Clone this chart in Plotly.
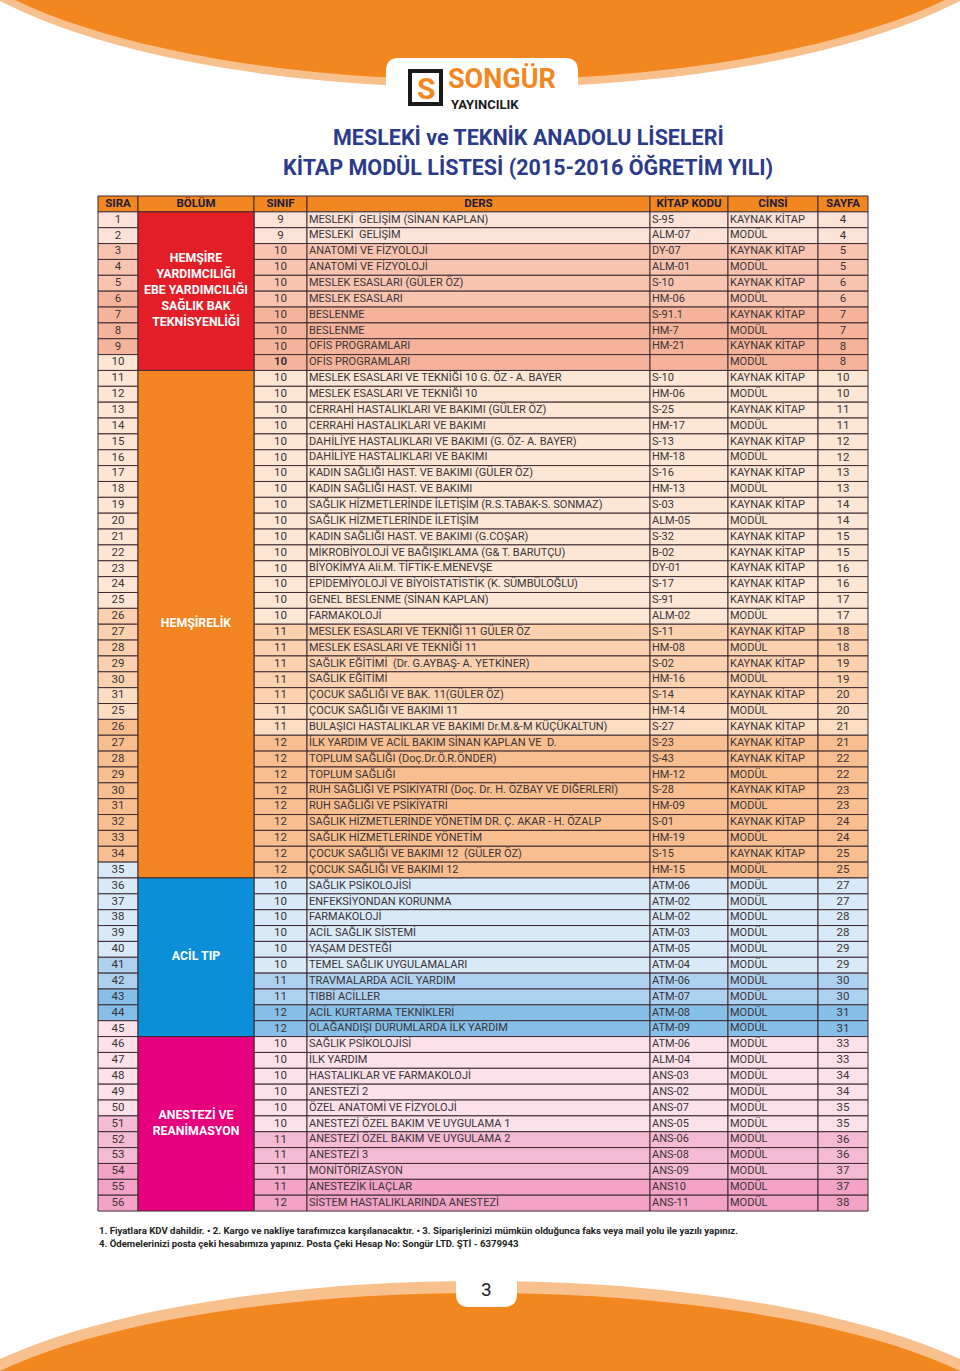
import plotly.graph_objects as go

W, H = 960, 1371

# ---- table data ----
columns = ["SIRA", "BÖLÜM", "SINIF", "DERS", "KİTAP KODU", "CİNSİ", "SAYFA"]

sira = ["1", "2", "3", "4", "5", "6", "7", "8", "9", "10",
        "11", "12", "13", "14", "15", "16", "17", "18", "19", "20",
        "21", "22", "23", "24", "25", "26", "27", "28", "29", "30", "31",
        "25", "26", "27", "28", "29", "30", "31", "32", "33", "34", "35",
        "36", "37", "38", "39", "40", "41", "42", "43", "44", "45",
        "46", "47", "48", "49", "50", "51", "52", "53", "54", "55", "56"]

bolum = ["HEMŞİRE<br>YARDIMCILIĞI<br>EBE YARDIMCILIĞI<br>SAĞLIK BAK<br>TEKNİSYENLİĞİ",
         "HEMŞİRELİK", "ACİL TIP", "ANESTEZİ VE<br>REANİMASYON"]
bolum_rows = [10, 32, 10, 11]

sinif = ["9", "9", "10", "10", "10", "10", "10", "10", "10", "<b>10</b>",
         "10", "10", "10", "10", "10", "10", "10", "10", "10", "10",
         "10", "10", "10", "10", "10", "10", "11", "11", "11", "11", "11",
         "11", "11", "12", "12", "12", "12", "12", "12", "12", "12", "12",
         "10", "10", "10", "10", "10", "10", "11", "11", "12", "12",
         "10", "10", "10", "10", "10", "10", "11", "11", "11", "11", "12"]

ders = [
    "MESLEKİ  GELİŞİM (SİNAN KAPLAN)",
    "MESLEKİ  GELİŞİM",
    "ANATOMİ VE FİZYOLOJİ",
    "ANATOMİ VE FİZYOLOJİ",
    "MESLEK ESASLARI (GÜLER ÖZ)",
    "MESLEK ESASLARI",
    "BESLENME",
    "BESLENME",
    "OFİS PROGRAMLARI",
    "OFİS PROGRAMLARI",
    "MESLEK ESASLARI VE TEKNİĞİ 10 G. ÖZ - A. BAYER",
    "MESLEK ESASLARI VE TEKNİĞİ 10",
    "CERRAHİ HASTALIKLARI VE BAKIMI (GÜLER ÖZ)",
    "CERRAHİ HASTALIKLARI VE BAKIMI",
    "DAHİLİYE HASTALIKLARI VE BAKIMI (G. ÖZ- A. BAYER)",
    "DAHİLİYE HASTALIKLARI VE BAKIMI",
    "KADIN SAĞLIĞI HAST. VE BAKIMI (GÜLER ÖZ)",
    "KADIN SAĞLIĞI HAST. VE BAKIMI",
    "SAĞLIK HİZMETLERİNDE İLETİŞİM (R.S.TABAK-S. SONMAZ)",
    "SAĞLIK HİZMETLERİNDE İLETİŞİM",
    "KADIN SAĞLIĞI HAST. VE BAKIMI (G.COŞAR)",
    "MİKROBİYOLOJİ VE BAĞIŞIKLAMA (G& T. BARUTÇU)",
    "BİYOKİMYA Ali.M. TİFTİK-E.MENEVŞE",
    "EPİDEMİYOLOJİ VE BİYOİSTATİSTİK (K. SÜMBÜLOĞLU)",
    "GENEL BESLENME (SİNAN KAPLAN)",
    "FARMAKOLOJİ",
    "MESLEK ESASLARI VE TEKNİĞİ 11 GÜLER ÖZ",
    "MESLEK ESASLARI VE TEKNİĞİ 11",
    "SAĞLIK EĞİTİMİ  (Dr. G.AYBAŞ- A. YETKİNER)",
    "SAĞLIK EĞİTİMİ",
    "ÇOCUK SAĞLIĞI VE BAK. 11(GÜLER ÖZ)",
    "ÇOCUK SAĞLIĞI VE BAKIMI 11",
    "BULAŞICI HASTALIKLAR VE BAKIMI Dr.M.&-M KÜÇÜKALTUN)",
    "İLK YARDIM VE ACİL BAKIM SİNAN KAPLAN VE  D.",
    "TOPLUM SAĞLIĞI (Doç.Dr.Ö.R.ÖNDER)",
    "TOPLUM SAĞLIĞI",
    "RUH SAĞLIĞI VE PSİKİYATRİ (Doç. Dr. H. ÖZBAY VE DİĞERLERİ)",
    "RUH SAĞLIĞI VE PSİKİYATRİ",
    "SAĞLIK HİZMETLERİNDE YÖNETİM DR. Ç. AKAR - H. ÖZALP",
    "SAĞLIK HİZMETLERİNDE YÖNETİM",
    "ÇOCUK SAĞLIĞI VE BAKIMI 12  (GÜLER ÖZ)",
    "ÇOCUK SAĞLIĞI VE BAKIMI 12",
    "SAĞLIK PSİKOLOJİSİ",
    "ENFEKSİYONDAN KORUNMA",
    "FARMAKOLOJİ",
    "ACİL SAĞLIK SİSTEMİ",
    "YAŞAM DESTEĞİ",
    "TEMEL SAĞLIK UYGULAMALARI",
    "TRAVMALARDA ACİL YARDIM",
    "TIBBİ ACİLLER",
    "ACİL KURTARMA TEKNİKLERİ",
    "OLAĞANDIŞI DURUMLARDA İLK YARDIM",
    "SAĞLIK PSİKOLOJİSİ",
    "İLK YARDIM",
    "HASTALIKLAR VE FARMAKOLOJİ",
    "ANESTEZİ 2",
    "ÖZEL ANATOMİ VE FİZYOLOJİ",
    "ANESTEZİ ÖZEL BAKIM VE UYGULAMA 1",
    "ANESTEZİ ÖZEL BAKIM VE UYGULAMA 2",
    "ANESTEZİ 3",
    "MONİTÖRİZASYON",
    "ANESTEZİK İLAÇLAR",
    "SİSTEM HASTALIKLARINDA ANESTEZİ",
]

kod = ["S-95", "ALM-07", "DY-07", "ALM-01", "S-10", "HM-06", "S-91.1", "HM-7", "HM-21", "",
       "S-10", "HM-06", "S-25", "HM-17", "S-13", "HM-18", "S-16", "HM-13", "S-03", "ALM-05",
       "S-32", "B-02", "DY-01", "S-17", "S-91", "ALM-02", "S-11", "HM-08", "S-02", "HM-16", "S-14",
       "HM-14", "S-27", "S-23", "S-43", "HM-12", "S-28", "HM-09", "S-01", "HM-19", "S-15", "HM-15",
       "ATM-06", "ATM-02", "ALM-02", "ATM-03", "ATM-05", "ATM-04", "ATM-06", "ATM-07", "ATM-08", "ATM-09",
       "ATM-06", "ALM-04", "ANS-03", "ANS-02", "ANS-07", "ANS-05", "ANS-06", "ANS-08", "ANS-09", "ANS10", "ANS-11"]

K, M = "KAYNAK KİTAP", "MODÜL"
cinsi = [K, M, K, M, K, M, K, M, K, M,
         K, M, K, M, K, M, K, M, K, M,
         K, K, K, K, K, M, K, M, K, M, K,
         M, K, K, K, M, K, M, K, M, K, M,
         M, M, M, M, M, M, M, M, M, M,
         M, M, M, M, M, M, M, M, M, M, M]

sayfa = ["4", "4", "5", "5", "6", "6", "7", "7", "8", "8",
         "10", "10", "11", "11", "12", "12", "13", "13", "14", "14",
         "15", "15", "16", "16", "17", "17", "18", "18", "19", "19", "20",
         "20", "21", "21", "22", "22", "23", "23", "24", "24", "25", "25",
         "27", "27", "28", "28", "29", "29", "30", "30", "31", "31",
         "33", "33", "34", "34", "35", "35", "36", "36", "37", "37", "38"]

notes = ["1. Fiyatlara KDV dahildir. • 2. Kargo ve nakliye tarafımızca karşılanacaktır. • 3. Siparişlerinizi mümkün olduğunca faks veya mail yolu ile yazılı yapınız.",
         "4. Ödemelerinizi posta çeki hesabımıza yapınız. Posta Çeki Hesap No: Songür LTD. ŞTİ - 6379943"]

# ---- style ----
FONT = "Roboto, Liberation Sans, Arial, sans-serif"
ORANGE = "#F2871F"
PEACH = "#F8C08C"
NAVY = "#2C3A8A"
TXT = "#3a3437"
LINE = dict(color="#3e2c33", width=1)

col_edges = [98, 138, 254, 307, 650, 728, 818, 868]
bolum_colors = ["#E31E26", "#F28522", "#0A8FD8", "#E6007E"]

shade_blocks = [("#FCE2D7", 2), ("#F8C4B0", 4), ("#F6B39B", 4),
                ("#FDE7D4", 16), ("#FBD1B0", 5), ("#FCDDC2", 2), ("#F8BE8F", 9),
                ("#D8E9F7", 6), ("#ADD1EF", 2), ("#86BFE7", 2),
                ("#FCE1EB", 6), ("#F6BBD4", 3), ("#F2A3C6", 2)]
body_colors = [c for c, k in shade_blocks for _ in range(k)]
sira_colors = body_colors[1:] + body_colors[-1:]
sira_colors[1] = body_colors[1]

# table rows in their own axis; 1 row unit = row_h pixels
n = len(ders)
rows = list(range(n))
row_h = 15.86
top_px = 196
pad = 0.2
y_top_px = top_px - pad * row_h
y_bot_px = top_px + (n + 1 + pad) * row_h
y2_domain = [1 - y_bot_px / H, 1 - y_top_px / H]
y2_range = [n - 0.5 + pad, -1.5 - pad]

fig = go.Figure()

widths = [b - a for a, b in zip(col_edges[:-1], col_edges[1:])]
lefts = col_edges[:-1]

# header row
fig.add_trace(go.Bar(orientation="h", y=[-1] * 7, x=widths, base=lefts, width=1,
                     marker=dict(color=ORANGE, line=LINE), yaxis="y2", hoverinfo="skip"))
fig.add_trace(go.Scatter(x=[(a + b) / 2 for a, b in zip(lefts, col_edges[1:])], y=[-1] * 7,
                         text=columns, mode="text", textposition="middle center",
                         textfont=dict(family=FONT, size=11.5, color="#1d1c3c", weight="bold"),
                         yaxis="y2", hoverinfo="skip"))

# body cells
for ci in [0, 2, 3, 4, 5, 6]:
    fig.add_trace(go.Bar(orientation="h", y=rows, x=[widths[ci]] * n, base=[lefts[ci]] * n, width=1,
                         marker=dict(color=sira_colors if ci == 0 else body_colors, line=LINE),
                         yaxis="y2", hoverinfo="skip"))

# merged BÖLÜM cells
starts = [sum(bolum_rows[:i]) for i in range(len(bolum_rows))]
centers = [s + (k - 1) / 2 for s, k in zip(starts, bolum_rows)]
fig.add_trace(go.Bar(orientation="h", y=centers, x=[widths[1]] * 4, base=[lefts[1]] * 4, width=bolum_rows,
                     marker=dict(color=bolum_colors, line=LINE), yaxis="y2", hoverinfo="skip"))
fig.add_trace(go.Scatter(x=[(lefts[1] + col_edges[2]) / 2] * 4, y=centers, text=bolum, mode="text",
                         textposition="middle center",
                         textfont=dict(family=FONT, size=12.3, color="white", weight="bold"),
                         yaxis="y2", hoverinfo="skip"))

# body text
cell_font = dict(family=FONT, size=11, color=TXT)
for ci, vals in [(0, sira), (2, sinif), (6, sayfa)]:
    fig.add_trace(go.Scatter(x=[(lefts[ci] + col_edges[ci + 1]) / 2] * n, y=rows, text=vals, mode="text",
                             textposition="middle center",
                             textfont=dict(family=FONT, size=11.5, color=TXT), yaxis="y2", hoverinfo="skip"))
for ci, vals in [(3, ders), (4, kod), (5, cinsi)]:
    fig.add_trace(go.Scatter(x=[lefts[ci] + 2] * n, y=rows, text=vals, mode="text",
                             textposition="middle right", textfont=cell_font, yaxis="y2", hoverinfo="skip"))

# ---- page decoration ----
shapes = [
    dict(type="circle", x0=480 - 570, x1=480 + 570, y0=-100.6 - 189, y1=88, fillcolor=PEACH, line_width=0),
    dict(type="circle", x0=480 - 560, x1=480 + 560, y0=-100.6 - 180.6, y1=80, fillcolor=ORANGE, line_width=0),
    dict(type="path", path="M 386,112 L 386,71 Q 386,58 399,58 L 565,58 Q 578,58 578,71 L 578,112 Z",
         fillcolor="white", line_width=0),
    dict(type="rect", x0=408, x1=443, y0=69, y1=106, fillcolor="#1a1a1a", line_width=0),
    dict(type="rect", x0=412, x1=439, y0=73, y1=102, fillcolor="white", line_width=0),
    dict(type="circle", x0=480 - 574, x1=480 + 574, y0=1281, y1=1453.8 + 172.8, fillcolor=PEACH, line_width=0),
    dict(type="circle", x0=480 - 560, x1=480 + 560, y0=1293, y1=1453.8 + 160.8, fillcolor=ORANGE, line_width=0),
    dict(type="path", path="M 456,1268 L 456,1294 Q 456,1307 469,1307 L 504,1307 Q 517,1307 517,1294 L 517,1268 Z",
         fillcolor="white", line_width=0),
]
for s in shapes:
    s.update(xref="x", yref="y", layer="below")

annotations = [
    dict(x=425.5, y=88, text="S", font=dict(family=FONT, size=30, color=ORANGE, weight="bold")),
    dict(x=446, y=79, text="SONGÜR", xanchor="left", font=dict(family=FONT, size=27, color=ORANGE, weight="bold")),
    dict(x=449, y=104, text="YAYINCILIK", xanchor="left", font=dict(family=FONT, size=13, color="#1a1a1a", weight="bold")),
    dict(x=528, y=137, text="MESLEKİ ve TEKNİK ANADOLU LİSELERİ", font=dict(family=FONT, size=21.5, color=NAVY, weight="bold")),
    dict(x=528, y=167, text="KİTAP MODÜL LİSTESİ (2015-2016 ÖĞRETİM YILI)", font=dict(family=FONT, size=21.5, color=NAVY, weight="bold")),
    dict(x=97, y=1230, text=notes[0], xanchor="left", font=dict(family=FONT, size=9.6, color="#222", weight="bold")),
    dict(x=97, y=1243, text=notes[1], xanchor="left", font=dict(family=FONT, size=9.6, color="#222", weight="bold")),
    dict(x=486, y=1289, text="3", font=dict(family=FONT, size=19, color="#222")),
]
for a in annotations:
    a.update(xref="x", yref="y", showarrow=False, yanchor="middle")

fig.update_layout(
    width=W, height=H, margin=dict(l=0, r=0, t=0, b=0),
    paper_bgcolor="white", plot_bgcolor="white",
    barmode="overlay", showlegend=False,
    xaxis=dict(range=[0, W], visible=False, fixedrange=True),
    yaxis=dict(range=[H, 0], visible=False, fixedrange=True, domain=[0, 1]),
    yaxis2=dict(range=y2_range, domain=y2_domain, anchor="x", visible=False, fixedrange=True),
    shapes=shapes, annotations=annotations,
)

fig.write_html("out.html", config={"displayModeBar": False},
               post_script="document.body.style.margin='0';")
